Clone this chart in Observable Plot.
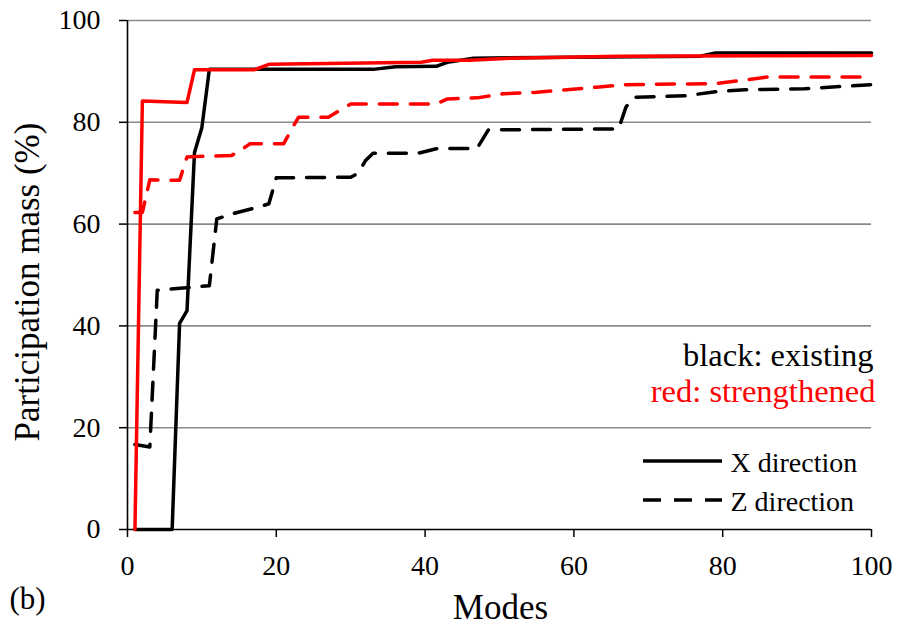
<!DOCTYPE html>
<html>
<head>
<meta charset="utf-8">
<script src="https://cdn.jsdelivr.net/npm/d3@7"></script>
<script src="https://cdn.jsdelivr.net/npm/@observablehq/plot@0.6"></script>
<style>
  html, body { margin: 0; padding: 0; background: #fff; }
  svg, svg text { font-family: "Liberation Serif", "Times New Roman", serif !important; }
</style>
</head>
<body>
<div id="chart"></div>
<script>
// ---- Data ----
const xTicks = [0, 20, 40, 60, 80, 100];
const yTicks = [0, 20, 40, 60, 80, 100];

// X direction, existing (black solid)
const xExistingModes  = [1, 6, 7, 8, 9, 10, 11, 33, 36, 41.5, 43, 46.5, 60, 77, 79, 100];
const xExistingValues = [0, 0, 40.5, 43, 74, 79, 90.4, 90.4, 90.9, 91, 91.8, 92.6, 92.8, 93, 93.6, 93.6];

// Z direction, existing (black dashed)
const zExistingModes  = [1, 3, 4, 11, 12, 14, 18, 19, 20, 30, 31, 32, 33, 39, 41.5, 47, 48.5, 66, 67, 68, 75, 79, 83, 91, 100];
const zExistingValues = [16.7, 16.2, 47, 47.9, 61, 62, 63.5, 64, 69.1, 69.2, 70, 72.5, 73.9, 73.9, 74.8, 74.9, 78.5, 78.7, 83, 84.9, 85.2, 86, 86.4, 86.6, 87.4];

// X direction, strengthened (red solid)
const xStrengthenedModes  = [1, 2, 8, 9, 17, 19, 39.5, 41, 46, 51.5, 66, 100];
const xStrengthenedValues = [0, 84.2, 83.9, 90.3, 90.3, 91.4, 91.8, 92.2, 92.2, 92.6, 93, 93.1];

// Z direction, strengthened (red dashed)
const zStrengthenedModes  = [1, 2, 3, 7, 8, 14, 15, 16.5, 21, 22, 23, 27, 30, 41.5, 43, 47, 50.5, 55, 63, 67, 79, 83, 86, 100];
const zStrengthenedValues = [62.3, 62.3, 68.7, 68.6, 73.2, 73.5, 74.3, 75.8, 75.8, 78.5, 81, 81, 83.6, 83.6, 84.6, 84.8, 85.6, 85.9, 86.9, 87.4, 87.6, 88.3, 88.9, 88.9];

const noteLabels = ["black: existing", "red: strengthened"];
const directionLabels = ["X direction", "Z direction"];
const xLabel = "Modes";
const yLabel = "Participation mass (%)";
const panelLabel = "(b)";

// ---- Build rows ----
const rows = (modes, values) => modes.map((m, i) => ({mode: m, value: values[i]}));
const xExisting = rows(xExistingModes, xExistingValues);
const zExisting = rows(zExistingModes, zExistingValues);
const xStrengthened = rows(xStrengthenedModes, xStrengthenedValues);
const zStrengthened = rows(zStrengthenedModes, zStrengthenedValues);

const FONT = "Liberation Serif";
const DASH = "18,13";
const LW = 3.5;

const plot = Plot.plot({
  width: 897,
  height: 625,
  marginLeft: 127,
  marginRight: 26,
  marginTop: 20,
  marginBottom: 96,
  style: {fontFamily: FONT, background: "#fff", color: "#000", overflow: "visible"},
  x: {domain: [0, 100]},
  y: {domain: [0, 100]},
  marks: [
    Plot.gridY(yTicks.filter(d => d > 0), {stroke: "#8a8a8a", strokeOpacity: 1, strokeWidth: 1.6}),
    Plot.axisY({ticks: yTicks, tickSize: 8, tickPadding: 19, fontSize: 28, fontFamily: FONT, label: null, strokeWidth: 1.5}),
    Plot.axisX({ticks: xTicks, tickSize: 8, tickPadding: 18, fontSize: 28, fontFamily: FONT, label: null, strokeWidth: 1.5}),
    Plot.ruleX([0], {stroke: "#000", strokeWidth: 1.6}),
    Plot.ruleY([0], {stroke: "#000", strokeWidth: 1.6}),

    Plot.line(xExisting, {x: "mode", y: "value", stroke: "#000", strokeWidth: LW}),
    Plot.line(zExisting, {x: "mode", y: "value", stroke: "#000", strokeWidth: LW, strokeDasharray: DASH}),
    Plot.line(xStrengthened, {x: "mode", y: "value", stroke: "#ff0000", strokeWidth: LW}),
    Plot.line(zStrengthened, {x: "mode", y: "value", stroke: "#ff0000", strokeWidth: LW, strokeDasharray: DASH}),

    // notes
    Plot.text([noteLabels[0]], {frameAnchor: "bottom-right", textAnchor: "end", lineAnchor: "bottom", dx: 2, dy: -164, fontSize: 32.5, fontFamily: FONT, fill: "#000"}),
    Plot.text([noteLabels[1]], {frameAnchor: "bottom-right", textAnchor: "end", lineAnchor: "bottom", dx: 4, dy: -128, fontSize: 32.5, fontFamily: FONT, fill: "#ff0000"}),
    // legend labels
    Plot.text([directionLabels[0]], {frameAnchor: "bottom-right", textAnchor: "start", lineAnchor: "bottom", dx: -141, dy: -58, fontSize: 28, fontFamily: FONT, fill: "#000"}),
    Plot.text([directionLabels[1]], {frameAnchor: "bottom-right", textAnchor: "start", lineAnchor: "bottom", dx: -141, dy: -19, fontSize: 28, fontFamily: FONT, fill: "#000"}),
    // axis titles
    Plot.text([xLabel], {frameAnchor: "bottom", textAnchor: "middle", lineAnchor: "bottom", dx: 1, dy: 89, fontSize: 35, fontFamily: FONT, fill: "#000"}),
    Plot.text([yLabel], {frameAnchor: "left", textAnchor: "middle", rotate: -90, dx: -100, dy: 7, fontSize: 35, fontFamily: FONT, fill: "#000"}),
    Plot.text([panelLabel], {frameAnchor: "bottom-left", textAnchor: "start", lineAnchor: "bottom", dx: -118, dy: 79, fontSize: 31, fontFamily: FONT, fill: "#000"})
  ]
});

d3.select(plot).attr("font-family", FONT).style("font-family", FONT);
document.getElementById("chart").appendChild(plot);

// legend swatches (line samples), positioned relative to the frame
const svg = d3.select(plot);
const frameRight = 897 - 26;
const frameBottom = 625 - 96;
const lg = svg.append("g").attr("stroke", "#000").attr("stroke-width", LW).attr("fill", "none");
lg.append("line").attr("x1", frameRight - 228).attr("x2", frameRight - 149)
  .attr("y1", frameBottom - 68).attr("y2", frameBottom - 68);
lg.append("line").attr("x1", frameRight - 228).attr("x2", frameRight - 149)
  .attr("y1", frameBottom - 29).attr("y2", frameBottom - 29).attr("stroke-dasharray", DASH);
</script>
</body>
</html>
